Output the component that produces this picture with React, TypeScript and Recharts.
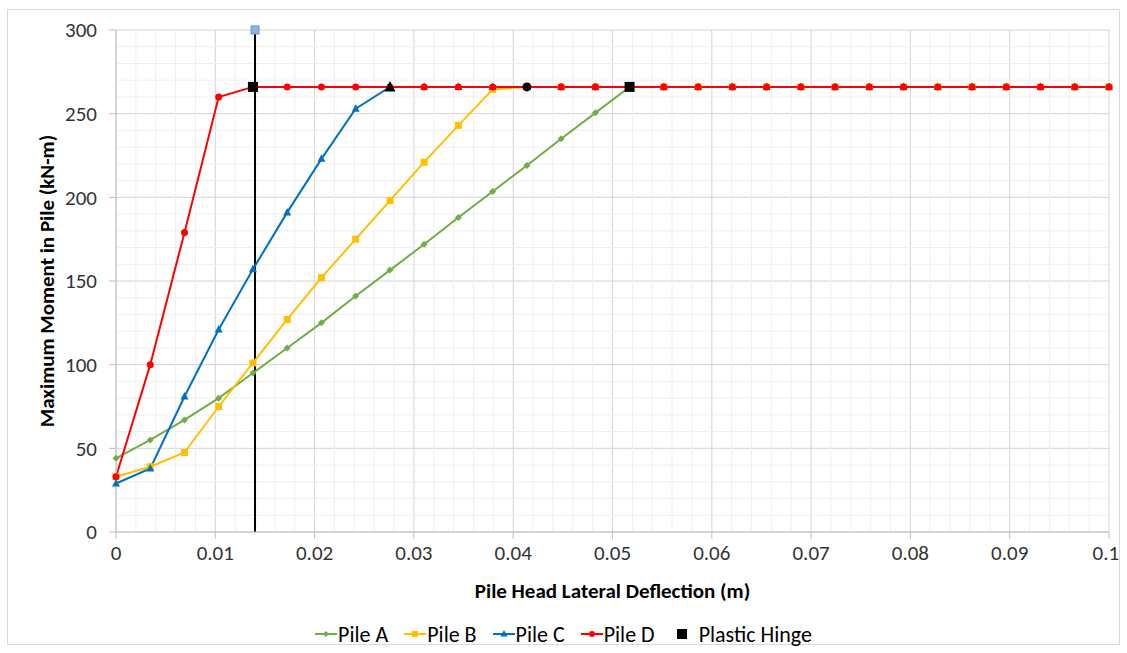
import {
  ComposedChart,
  Line,
  XAxis,
  YAxis,
  CartesianGrid,
  ReferenceLine,
  Legend,
  Label,
} from 'recharts';

// deflection steps (m)
const deflection = [
  0, 0.00345, 0.0069, 0.01034, 0.01379, 0.01724, 0.02069, 0.02414, 0.02759, 0.03103,
  0.03448, 0.03793, 0.04138, 0.04483, 0.04828, 0.05172, 0.05517, 0.05862, 0.06207, 0.06552,
  0.06897, 0.07241, 0.07586, 0.07931, 0.08276, 0.08621, 0.08966, 0.0931, 0.09655, 0.1,
];

// max moment (kN-m)
const pileA = [
  44, 55, 67, 80, 95, 110, 125, 141, 156.5, 172, 188, 203.5, 219, 235, 250.5, 266,
  266, 266, 266, 266, 266, 266, 266, 266, 266, 266, 266, 266, 266, 266,
];
const pileB = [
  33, 39, 47.5, 75, 101, 127, 152, 175, 198, 221, 243, 264.5,
  266, 266, 266, 266, 266, 266, 266, 266, 266, 266, 266, 266, 266, 266, 266, 266, 266, 266,
];
const pileC = [
  29, 38, 81, 121, 157, 191, 223, 253,
  266, 266, 266, 266, 266, 266, 266, 266, 266, 266, 266, 266, 266, 266, 266, 266, 266, 266,
  266, 266, 266, 266,
];
const pileD = [
  33, 100, 179, 260,
  266, 266, 266, 266, 266, 266, 266, 266, 266, 266, 266, 266, 266, 266, 266, 266, 266, 266,
  266, 266, 266, 266, 266, 266, 266, 266,
];

const hingeX = [0.01379, 0.02759, 0.04138, 0.05172];
const hingeY = [266, 266, 266, 266];
const hingeMarker = ['square', 'triangle', 'circle', 'square'];

const limitX = [0.014, 0.014];
const limitY = [0, 300];

const xTicks = [0, 0.01, 0.02, 0.03, 0.04, 0.05, 0.06, 0.07, 0.08, 0.09, 0.1];
const yTicks = [0, 50, 100, 150, 200, 250, 300];

const rows = deflection.map((x, i) => ({ x, a: pileA[i], b: pileB[i], c: pileC[i], d: pileD[i] }));
const hinges = hingeX.map((x, i) => ({ x, h: hingeY[i] }));
const limitLine = limitX.map((x, i) => ({ x, v: limitY[i] }));

// light minor gridlines (Excel style)
const minorX = Array.from({ length: 51 }, (_, i) => +(i * 0.002).toFixed(3)).filter((v) => Math.round(v * 1000) % 10 !== 0);
const minorY = Array.from({ length: 31 }, (_, i) => i * 10).filter((v) => v % 50 !== 0);

const FONT = 'Carlito, Lato, sans-serif';
const TEXT = '#333';
const GREEN = '#70AD47';
const YELLOW = '#FFC000';
const BLUE = '#0070C0';
const RED = '#FF0000';

function Marker({ kind, cx, cy, size, fill }: { kind: string; cx: number; cy: number; size: number; fill: string }) {
  const h = size / 2;
  if (kind === 'circle') return <circle cx={cx} cy={cy} r={h} fill={fill} />;
  if (kind === 'square') return <rect x={cx - h} y={cy - h} width={size} height={size} fill={fill} />;
  if (kind === 'triangle')
    return <polygon points={`${cx},${cy - h - 1} ${cx + h + 0.5},${cy + h - 0.5} ${cx - h - 0.5},${cy + h - 0.5}`} fill={fill} />;
  return <polygon points={`${cx},${cy - h} ${cx + h},${cy} ${cx},${cy + h} ${cx - h},${cy}`} fill={fill} />;
}

const dotFor = (kind: string, fill: string, size: number, tag: string) => (p: any) => (
  <g key={`${tag}-${p.index}`}>
    {p.cx != null && p.cy != null ? <Marker kind={kind} cx={p.cx} cy={p.cy} size={size} fill={fill} /> : null}
  </g>
);

const legendItems = [
  { name: 'Pile A', color: GREEN, kind: 'diamond', line: true },
  { name: 'Pile B', color: YELLOW, kind: 'square', line: true },
  { name: 'Pile C', color: BLUE, kind: 'triangle', line: true },
  { name: 'Pile D', color: RED, kind: 'circle', line: true },
  { name: 'Plastic Hinge', color: '#000', kind: 'square', line: false },
];

const renderLegend = () => (
  <div style={{ display: 'flex', justifyContent: 'center', height: 24, alignItems: 'center', fontFamily: FONT, fontSize: 22, color: '#000', paddingLeft: 16 }}>
    {legendItems.map((it) => (
      <div key={it.name} style={{ display: 'flex', alignItems: 'center', marginRight: 16 }}>
        <svg width={22} height={12} style={{ marginRight: it.line ? 1 : 6 }}>
          {it.line ? <line x1={0} y1={6} x2={22} y2={6} stroke={it.color} strokeWidth={2} /> : null}
          <Marker kind={it.kind} cx={11} cy={6} size={it.line ? 6 : 10} fill={it.color} />
        </svg>
        <span>{it.name}</span>
      </div>
    ))}
  </div>
);

export default function App() {
  return (
    <div
      style={{
        position: 'absolute',
        left: 7,
        top: 9,
        width: 1111,
        height: 634,
        border: '1px solid #d9d9d9',
        background: '#fff',
      }}
    >
      <ComposedChart width={1111} height={634} data={rows} margin={{ top: 20, right: 10, left: 0, bottom: 48 }}>
        {minorX.map((v) => (
          <ReferenceLine key={`mx${v}`} x={v} stroke="#efefef" strokeWidth={1} />
        ))}
        {minorY.map((v) => (
          <ReferenceLine key={`my${v}`} y={v} stroke="#efefef" strokeWidth={1} />
        ))}
        <CartesianGrid stroke="#d4d4d4" strokeWidth={1} />
        <XAxis
          dataKey="x"
          type="number"
          domain={[0, 0.1]}
          ticks={xTicks}
          height={40}
          tickSize={7}
          tickMargin={6}
          stroke="#bfbfbf"
          tick={{ fill: TEXT, fontSize: 21, fontFamily: FONT }}
        >
          <Label
            content={({ viewBox }: any) => (
              <text
                x={viewBox.x + viewBox.width / 2}
                y={viewBox.y + 59}
                textAnchor="middle"
                dominantBaseline="central"
                fontFamily={FONT}
                fontSize={21}
                fontWeight={700}
                fill="#000"
              >
                Pile Head Lateral Deflection (m)
              </text>
            )}
          />
        </XAxis>
        <YAxis
          type="number"
          domain={[0, 300]}
          ticks={yTicks}
          width={108}
          tickSize={7}
          tickMargin={12}
          stroke="#bfbfbf"
          tick={{ fill: TEXT, fontSize: 21, fontFamily: FONT }}
        >
          <Label
            content={({ viewBox }: any) => {
              const cx = viewBox.x + 39;
              const cy = viewBox.y + viewBox.height / 2;
              return (
                <text
                  x={cx}
                  y={cy}
                  transform={`rotate(-90 ${cx} ${cy})`}
                  textAnchor="middle"
                  dominantBaseline="central"
                  fontFamily={FONT}
                  fontSize={21}
                  fontWeight={700}
                  fill="#000"
                >
                  Maximum Moment in Pile (kN-m)
                </text>
              );
            }}
          />
        </YAxis>
        <Legend verticalAlign="bottom" content={renderLegend} wrapperStyle={{ top: 612, left: 0, width: 1111 }} />
        <Line
          data={limitLine}
          dataKey="v"
          stroke="#000"
          strokeWidth={2}
          legendType="none"
          isAnimationActive={false}
          dot={(p: any) => (
            <g key={`lim-${p.index}`}>
              {p.index === 1 ? (
                <rect x={p.cx - 4} y={p.cy - 4} width={8} height={8} fill="#8EB4E3" stroke="#7092BE" strokeWidth={1} />
              ) : null}
            </g>
          )}
        />
        <Line dataKey="a" name="Pile A" stroke={GREEN} strokeWidth={2} isAnimationActive={false} dot={dotFor('diamond', GREEN, 7, 'a')} />
        <Line dataKey="b" name="Pile B" stroke={YELLOW} strokeWidth={2} isAnimationActive={false} dot={dotFor('square', YELLOW, 7, 'b')} />
        <Line dataKey="c" name="Pile C" stroke={BLUE} strokeWidth={2} isAnimationActive={false} dot={dotFor('triangle', BLUE, 7, 'c')} />
        <Line dataKey="d" name="Pile D" stroke={RED} strokeWidth={2} isAnimationActive={false} dot={dotFor('circle', RED, 7, 'd')} />
        <Line
          data={hinges}
          dataKey="h"
          name="Plastic Hinge"
          stroke="none"
          isAnimationActive={false}
          dot={(p: any) => (
            <g key={`h-${p.index}`}>
              <Marker kind={hingeMarker[p.index] ?? 'square'} cx={p.cx} cy={p.cy} size={p.index === 2 ? 9 : 10} fill="#000" />
            </g>
          )}
        />
      </ComposedChart>
    </div>
  );
}
